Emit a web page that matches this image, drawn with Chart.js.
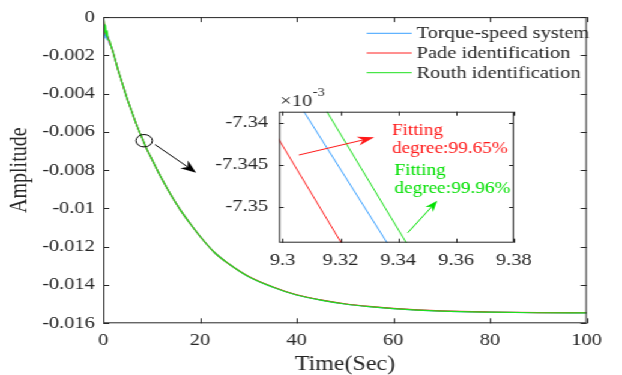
<!DOCTYPE html>
<html>
<head>
<meta charset="utf-8">
<script src="https://cdn.jsdelivr.net/npm/chart.js@4.4.1/dist/chart.umd.min.js"></script>
<style>
  html, body { margin: 0; padding: 0; background: #fff; overflow: hidden; font-family: "Liberation Serif", serif; }
  /* the original figure is stretched horizontally, so the whole stage is too */
  #stage { position: relative; width: 518px; height: 375px; transform: scaleX(1.2008); transform-origin: 0 0; }
  #main { position: absolute; left: 0; top: 0; }
  #inset { position: absolute; left: 170px; top: 80px; }
  #warm { position: absolute; left: -999px; top: 0; font: 17px "Liberation Serif"; }
</style>
</head>
<body>
<span id="warm">Amplitude 0.123456789</span>
<div id="stage">
  <canvas id="main" width="518" height="375"></canvas>
  <canvas id="inset" width="280" height="200"></canvas>
</div>
<script>
// ---- data ----
const time = [0, 0.15, 0.3, 0.45, 0.6, 0.8, 1.0, 1.3, 1.6, 2, 3, 4, 5, 6, 7, 8, 9, 10, 12, 14, 16, 18, 20, 23, 26, 30, 35, 40, 45, 50, 55, 60, 70, 80, 90, 100];
const torqueSpeed = [0, -0.0010, -0.0004, -0.0011, -0.0008, -0.0012, -0.0010, -0.0014, -0.0015, -0.0018, -0.0027, -0.0035, -0.0043, -0.0050, -0.0057, -0.0063, -0.0069, -0.0074, -0.0084, -0.0093, -0.0101, -0.0108, -0.01145, -0.0123, -0.0129, -0.01355, -0.0141, -0.01452, -0.01479, -0.01499, -0.01513, -0.01523, -0.01536, -0.01542, -0.01545, -0.01546];
const padeId = [0, -0.0003, -0.0006, -0.0008, -0.0009, -0.0010, -0.0011, -0.0013, -0.0015, -0.0018, -0.0027, -0.0035, -0.0043, -0.0050, -0.0057, -0.0063, -0.0069, -0.0074, -0.0084, -0.0093, -0.0101, -0.0108, -0.01145, -0.0123, -0.0129, -0.01354, -0.01409, -0.01451, -0.01478, -0.01498, -0.01512, -0.01522, -0.01535, -0.01541, -0.01544, -0.01545];
const routhId = [0, -0.0002, -0.0008, -0.0004, -0.0010, -0.0007, -0.0012, -0.0012, -0.0015, -0.0018, -0.0027, -0.0035, -0.0043, -0.0050, -0.0057, -0.0063, -0.0069, -0.0074, -0.0084, -0.0093, -0.0101, -0.0108, -0.01145, -0.0123, -0.0129, -0.01355, -0.0141, -0.01452, -0.01479, -0.01499, -0.01513, -0.01523, -0.01536, -0.01542, -0.01545, -0.01546];
const seriesNames = ['Torque-speed system', 'Pade identification', 'Routh identification'];
const seriesColors = ['#3aa0ff', '#ff2020', '#1ee01e'];

const xTicks = [0, 20, 40, 60, 80, 100];
const yTicks = [0, -0.002, -0.004, -0.006, -0.008, -0.01, -0.012, -0.014, -0.016];

// zoomed window around t = 9.33 s (amplitude in units of 1e-3)
const insetTorqueT = [9.305, 9.340];
const insetTorque = [-7.3374, -7.3564];
const insetPadeT = [9.295, 9.325];
const insetPade = [-7.3399, -7.3570];
const insetRouthT = [9.312, 9.347];
const insetRouth = [-7.3368, -7.3567];
const insetXTicks = [9.3, 9.32, 9.34, 9.36, 9.38];
const insetYTicks = [-7.34, -7.345, -7.35];
const fitLabels = [['Fitting', 'degree:99.65%'], ['Fitting', 'degree:99.96%']];

const FONT = '"Liberation Serif", "Times New Roman", serif';
const INK = '#262626';

function pairs(xs, ys) {
    return xs.map((x, i) => ({ x: x, y: ys[i] }));
}

function fmt(v) {
    return String(+v.toFixed(4));
}

function drawArrow(ctx, x1, y1, x2, y2, color, len, half) {
    const a = Math.atan2(y2 - y1, x2 - x1);
    const bx = x2 - len * Math.cos(a), by = y2 - len * Math.sin(a);
    const nx = bx + 0.3 * len * Math.cos(a), ny = by + 0.3 * len * Math.sin(a);
    ctx.save();
    ctx.strokeStyle = color;
    ctx.fillStyle = color;
    ctx.lineWidth = 1;
    ctx.beginPath();
    ctx.moveTo(x1, y1);
    ctx.lineTo(nx, ny);
    ctx.stroke();
    // notched head
    ctx.beginPath();
    ctx.moveTo(x2, y2);
    ctx.lineTo(bx - half * Math.sin(a), by + half * Math.cos(a));
    ctx.lineTo(nx, ny);
    ctx.lineTo(bx + half * Math.sin(a), by - half * Math.cos(a));
    ctx.closePath();
    ctx.fill();
    ctx.restore();
}

// box with inward ticks on all four sides
function drawBox(chart, tick) {
    const { ctx, chartArea: a, scales } = chart;
    ctx.save();
    ctx.strokeStyle = INK;
    ctx.lineWidth = 1;
    ctx.strokeRect(a.left + 0.5, a.top + 0.5, a.right - a.left - 1, a.bottom - a.top - 1);
    ctx.beginPath();
    scales.x.ticks.forEach(t => {
        const px = Math.round(scales.x.getPixelForValue(t.value)) + 0.5;
        ctx.moveTo(px, a.bottom); ctx.lineTo(px, a.bottom - tick);
        ctx.moveTo(px, a.top); ctx.lineTo(px, a.top + tick);
    });
    scales.y.ticks.forEach(t => {
        const py = Math.round(scales.y.getPixelForValue(t.value)) + 0.5;
        ctx.moveTo(a.left, py); ctx.lineTo(a.left + tick, py);
        ctx.moveTo(a.right, py); ctx.lineTo(a.right - tick, py);
    });
    ctx.stroke();
    ctx.restore();
}

const mainDecor = {
    id: 'mainDecor',
    afterDatasetsDraw(chart) {
        const { ctx, chartArea: a, scales: { x, y } } = chart;
        drawBox(chart, 5);

        // circle marking the zoomed region
        ctx.save();
        ctx.strokeStyle = '#000';
        ctx.lineWidth = 1;
        ctx.beginPath();
        ctx.ellipse(x.getPixelForValue(8.46), y.getPixelForValue(-0.00646), 6.8, 6.2, 0, 0, Math.PI * 2);
        ctx.stroke();
        ctx.restore();
        drawArrow(ctx, x.getPixelForValue(10.7), y.getPixelForValue(-0.00666),
            x.getPixelForValue(19.2), y.getPixelForValue(-0.00813), '#000', 13, 5);

        // legend
        ctx.save();
        ctx.font = '17px ' + FONT;
        ctx.textBaseline = 'middle';
        ctx.textAlign = 'left';
        chart.data.datasets.forEach((ds, i) => {
            const ly = a.top + 15.7 + i * 19.7;
            const lx = a.right - 183.2;
            ctx.strokeStyle = ds.borderColor;
            ctx.lineWidth = 1;
            ctx.beginPath();
            ctx.moveTo(lx, ly + 0.5);
            ctx.lineTo(lx + 37.5, ly + 0.5);
            ctx.stroke();
            ctx.fillStyle = INK;
            ctx.fillText(ds.label, lx + 41.6, ly + 1);
        });
        ctx.restore();
    }
};

const insetDecor = {
    id: 'insetDecor',
    beforeDatasetsDraw(chart) {
        const { ctx, chartArea: a } = chart;
        ctx.save();
        ctx.fillStyle = '#fff';
        ctx.fillRect(a.left, a.top, a.right - a.left, a.bottom - a.top);
        ctx.restore();
    },
    afterDatasetsDraw(chart) {
        const { ctx, chartArea: a, scales: { x, y } } = chart;
        drawBox(chart, 4);

        // exponent label
        ctx.save();
        ctx.fillStyle = INK;
        ctx.textBaseline = 'alphabetic';
        ctx.font = '17px ' + FONT;
        ctx.fillText('\u00d710', a.left + 1, a.top - 6);
        const w = ctx.measureText('\u00d710').width;
        ctx.font = '12px ' + FONT;
        ctx.fillText('-3', a.left + 1.5 + w, a.top - 16);
        ctx.restore();

        drawArrow(ctx, x.getPixelForValue(9.3056), y.getPixelForValue(-7.34385),
            x.getPixelForValue(9.3317), y.getPixelForValue(-7.34174), '#ff1a1a', 14, 4.5);
        drawArrow(ctx, x.getPixelForValue(9.3433), y.getPixelForValue(-7.3531),
            x.getPixelForValue(9.3535), y.getPixelForValue(-7.34929), '#00e000', 11, 4);

        ctx.save();
        ctx.font = '16px ' + FONT;
        ctx.textBaseline = 'alphabetic';
        ctx.fillStyle = '#ff1a1a';
        fitLabels[0].forEach((s, i) => ctx.fillText(s, x.getPixelForValue(9.3378), y.getPixelForValue(-7.3415) + i * 17.7));
        ctx.fillStyle = '#00e000';
        fitLabels[1].forEach((s, i) => ctx.fillText(s, x.getPixelForValue(9.3387), y.getPixelForValue(-7.34625) + i * 17.7));
        ctx.restore();
    }
};

const tickFont = { family: FONT, size: 17 };

function drawCharts() {
    new Chart(document.getElementById('main'), {
        type: 'line',
        data: {
            datasets: [
                { label: seriesNames[0], data: pairs(time, torqueSpeed), borderColor: seriesColors[0], order: 2 },
                { label: seriesNames[1], data: pairs(time, padeId), borderColor: seriesColors[1], order: 1 },
                { label: seriesNames[2], data: pairs(time, routhId), borderColor: seriesColors[2], order: 0 }
            ]
        },
        options: {
            responsive: false,
            animation: false,
            devicePixelRatio: 1,
            layout: { padding: { top: 15, right: 29.4, bottom: 0, left: 0 } },
            elements: {
                point: { radius: 0 },
                line: { borderWidth: 1.2, cubicInterpolationMode: 'monotone' }
            },
            plugins: { legend: { display: false }, tooltip: { enabled: false } },
            scales: {
                x: {
                    type: 'linear', min: 0, max: 100,
                    afterBuildTicks: s => { s.ticks = xTicks.map(v => ({ value: v })); },
                    afterFit: s => { s.height = 51.7; },
                    grid: { display: false, drawTicks: false },
                    border: { display: false },
                    ticks: { font: tickFont, color: INK, padding: 7.3, maxRotation: 0, callback: v => fmt(v) },
                    title: { display: true, text: 'Time(Sec)', color: INK, font: { family: FONT, size: 20, lineHeight: 1 }, padding: 0 }
                },
                y: {
                    type: 'linear', min: -0.016, max: 0,
                    afterBuildTicks: s => { s.ticks = yTicks.map(v => ({ value: v })); },
                    afterFit: s => { s.width = 86; },
                    grid: { display: false, drawTicks: false },
                    border: { display: false },
                    ticks: { font: tickFont, color: INK, padding: 6.9, callback: v => fmt(v) },
                    title: { display: true, text: 'Amplitude', color: INK, font: { family: FONT, size: 20, lineHeight: 1 }, padding: { top: 6.9, bottom: 0 } }
                }
            }
        },
        plugins: [mainDecor]
    });

    new Chart(document.getElementById('inset'), {
        type: 'line',
        data: {
            datasets: [
                { label: seriesNames[0], data: pairs(insetTorqueT, insetTorque), borderColor: seriesColors[0] },
                { label: seriesNames[1], data: pairs(insetPadeT, insetPade), borderColor: seriesColors[1] },
                { label: seriesNames[2], data: pairs(insetRouthT, insetRouth), borderColor: seriesColors[2] }
            ]
        },
        options: {
            responsive: false,
            animation: false,
            devicePixelRatio: 1,
            layout: { padding: { top: 31.7, right: 18.6, bottom: 0, left: 0 } },
            elements: { point: { radius: 0 }, line: { borderWidth: 1, tension: 0 } },
            plugins: { legend: { display: false }, tooltip: { enabled: false } },
            scales: {
                x: {
                    type: 'linear', min: 9.2987, max: 9.38,
                    afterBuildTicks: s => { s.ticks = insetXTicks.map(v => ({ value: v })); },
                    afterFit: s => { s.height = 37.3; },
                    grid: { display: false, drawTicks: false },
                    border: { display: false },
                    ticks: { font: tickFont, color: INK, padding: 7.2, maxRotation: 0, callback: v => fmt(v) }
                },
                y: {
                    type: 'linear', min: -7.35429, max: -7.33869,
                    afterBuildTicks: s => { s.ticks = insetYTicks.map(v => ({ value: v })); },
                    afterFit: s => { s.width = 62.3; },
                    grid: { display: false, drawTicks: false },
                    border: { display: false },
                    ticks: { font: tickFont, color: INK, padding: 9.1, callback: v => fmt(v) }
                }
            }
        },
        plugins: [insetDecor]
    });
}

// make sure the serif face is ready before the canvases use it
if (document.fonts && document.fonts.load) {
    Promise.all([
        document.fonts.load('17px "Liberation Serif"'),
        document.fonts.load('20px "Liberation Serif"')
    ]).then(drawCharts, drawCharts);
} else {
    drawCharts();
}
</script>
</body>
</html>
